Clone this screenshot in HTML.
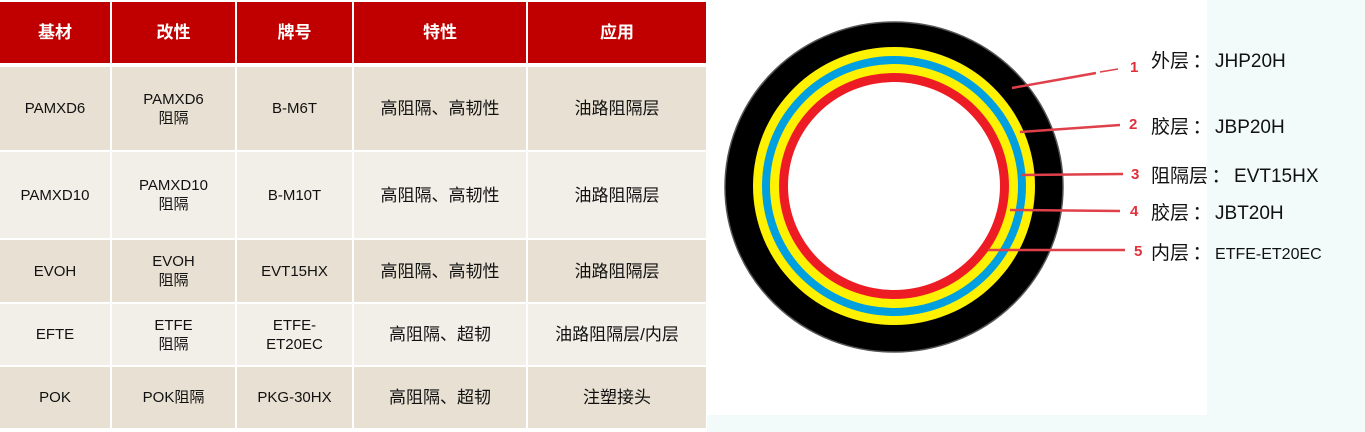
<!DOCTYPE html>
<html><head><meta charset="utf-8"><style>
body{margin:0;width:1365px;height:432px;background:#f2fbfa;position:relative;overflow:hidden;font-family:"Liberation Sans","Noto Sans CJK SC",sans-serif}
.c{position:absolute;display:flex;align-items:center;justify-content:center;text-align:center;font-size:15px;line-height:19px;color:#111}
.h{background:#c00000;color:#fff;font-weight:bold;font-size:17px}
.a{background:#e8e0d2}.b{background:#f2efe9}
#panel{position:absolute;left:707px;top:0;width:500px;height:415px;background:#fff}
.lb{position:absolute;font-size:19px;color:#111;white-space:nowrap}
.lb i{font-style:normal;display:inline-block;width:26px;text-align:center}
</style></head><body>
<div style="position:absolute;left:0;top:0;width:707px;height:432px;background:#fff"></div>
<div id="panel"></div>

<div class="c h" style="left:0;top:2px;width:110px;height:61px">基材</div>
<div class="c h" style="left:112px;top:2px;width:123px;height:61px">改性</div>
<div class="c h" style="left:237px;top:2px;width:115px;height:61px">牌号</div>
<div class="c h" style="left:354px;top:2px;width:172px;height:61px">特性</div>
<div class="c h" style="left:528px;top:2px;width:178px;height:61px">应用</div>

<div class="c a" style="left:0;top:67px;width:110px;height:83px">PAMXD6</div>
<div class="c a" style="left:112px;top:67px;width:123px;height:83px">PAMXD6<br>阻隔</div>
<div class="c a" style="left:237px;top:67px;width:115px;height:83px">B-M6T</div>
<div class="c a" style="left:354px;top:67px;width:172px;height:83px;font-size:17px">高阻隔、高韧性</div>
<div class="c a" style="left:528px;top:67px;width:178px;height:83px;font-size:17px">油路阻隔层</div>

<div class="c b" style="left:0;top:152px;width:110px;height:86px">PAMXD10</div>
<div class="c b" style="left:112px;top:152px;width:123px;height:86px">PAMXD10<br>阻隔</div>
<div class="c b" style="left:237px;top:152px;width:115px;height:86px">B-M10T</div>
<div class="c b" style="left:354px;top:152px;width:172px;height:86px;font-size:17px">高阻隔、高韧性</div>
<div class="c b" style="left:528px;top:152px;width:178px;height:86px;font-size:17px">油路阻隔层</div>

<div class="c a" style="left:0;top:240px;width:110px;height:62px">EVOH</div>
<div class="c a" style="left:112px;top:240px;width:123px;height:62px">EVOH<br>阻隔</div>
<div class="c a" style="left:237px;top:240px;width:115px;height:62px">EVT15HX</div>
<div class="c a" style="left:354px;top:240px;width:172px;height:62px;font-size:17px">高阻隔、高韧性</div>
<div class="c a" style="left:528px;top:240px;width:178px;height:62px;font-size:17px">油路阻隔层</div>

<div class="c b" style="left:0;top:304px;width:110px;height:61px">EFTE</div>
<div class="c b" style="left:112px;top:304px;width:123px;height:61px">ETFE<br>阻隔</div>
<div class="c b" style="left:237px;top:304px;width:115px;height:61px">ETFE-<br>ET20EC</div>
<div class="c b" style="left:354px;top:304px;width:172px;height:61px;font-size:17px">高阻隔、超韧</div>
<div class="c b" style="left:528px;top:304px;width:178px;height:61px;font-size:17px">油路阻隔层/内层</div>

<div class="c a" style="left:0;top:367px;width:110px;height:61px">POK</div>
<div class="c a" style="left:112px;top:367px;width:123px;height:61px">POK阻隔</div>
<div class="c a" style="left:237px;top:367px;width:115px;height:61px">PKG-30HX</div>
<div class="c a" style="left:354px;top:367px;width:172px;height:61px;font-size:17px">高阻隔、超韧</div>
<div class="c a" style="left:528px;top:367px;width:178px;height:61px;font-size:17px">注塑接头</div>

<svg style="position:absolute;left:0;top:0" width="1365" height="432">
<ellipse cx="894" cy="187" rx="169" ry="165" fill="#000" stroke="#555" stroke-width="1.5"/>
<ellipse cx="894" cy="186" rx="141" ry="139" fill="#fff200"/>
<ellipse cx="894" cy="186" rx="132" ry="130" fill="#00a0e0"/>
<ellipse cx="894" cy="186" rx="124" ry="122" fill="#fff200"/>
<ellipse cx="894" cy="186" rx="115" ry="113" fill="#ed1c24"/>
<ellipse cx="894" cy="186" rx="106" ry="104" fill="#fff"/>
<g stroke="#e0404a" stroke-width="2.5">
<line x1="1012" y1="88" x2="1096" y2="73"/><line x1="1100" y1="72" x2="1118" y2="69" stroke-width="1.5"/>
<line x1="1020" y1="132" x2="1120" y2="125"/>
<line x1="1021" y1="175" x2="1123" y2="174"/>
<line x1="1010" y1="210" x2="1120" y2="211"/>
<line x1="988" y1="250" x2="1125" y2="250"/>
</g>
<g fill="#e0303a" font-weight="bold" font-size="15" font-family="Liberation Sans,sans-serif">
<text x="1130" y="72">1</text><text x="1129" y="129">2</text><text x="1131" y="179">3</text><text x="1130" y="216">4</text><text x="1134" y="256">5</text>
</g>
</svg>
<div class="lb" style="left:1151px;top:46px">外层<i>：</i>JHP20H</div>
<div class="lb" style="left:1151px;top:112px">胶层<i>：</i>JBP20H</div>
<div class="lb" style="left:1151px;top:161px">阻隔层<i>：</i>EVT15HX</div>
<div class="lb" style="left:1151px;top:198px">胶层<i>：</i>JBT20H</div>
<div class="lb" style="left:1151px;top:238px">内层<i>：</i><span style="font-size:16px">ETFE-ET20EC</span></div>
</body></html>
